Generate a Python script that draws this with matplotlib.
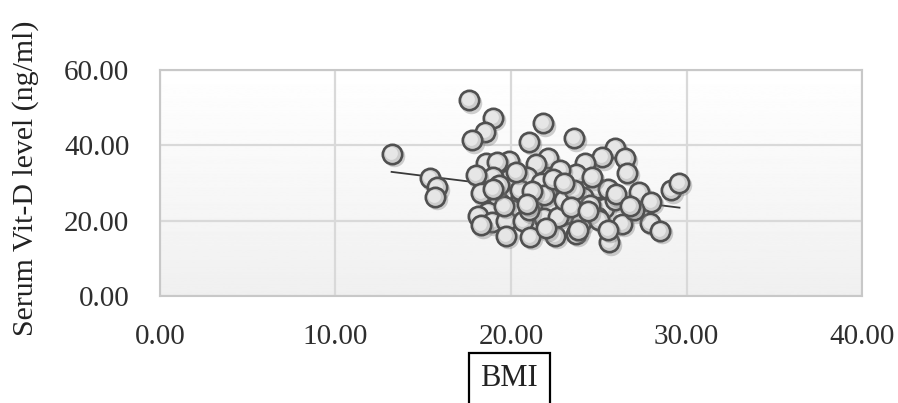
import numpy as np
import matplotlib.pyplot as plt
from matplotlib import transforms

# BMI vs serum vitamin D values
bmi = [13.2, 17.6, 19.0, 18.5, 17.8, 15.4, 15.8, 15.7, 21.8, 23.6,
       21.0, 25.9, 25.2, 26.5, 24.2, 22.1, 21.4, 19.9, 18.6, 19.2,
       26.6, 23.7, 20.9, 19.9, 19.0, 18.0, 21.7, 22.6, 24.9, 25.5,
       27.3, 29.1, 29.6, 18.3, 19.3, 20.6, 21.4, 24.1, 22.3, 25.3,
       28.0, 20.1, 18.7, 18.1, 18.9, 19.7, 20.7, 21.9, 23.1, 24.0,
       24.9, 26.3, 27.9, 28.5, 19.7, 21.1, 22.5, 23.7, 25.6, 18.3,
       22.7, 23.8, 23.1, 19.3, 20.5, 21.9, 23.0, 24.5, 21.0, 25.9,
       23.6, 25.0, 27.0, 20.3, 22.8, 24.6, 21.2, 22.4, 19.6, 23.4,
       26.0, 24.4, 20.9, 22.0, 25.5, 19.0, 23.0, 26.8]
vitd = [37.7, 52.0, 47.3, 43.5, 41.4, 31.3, 28.9, 26.3, 45.9, 41.9,
        40.9, 39.3, 36.9, 36.6, 35.3, 36.6, 35.0, 35.8, 35.3, 35.6,
        32.7, 32.4, 31.6, 31.1, 31.6, 32.1, 30.0, 28.7, 28.7, 28.4,
        27.6, 28.1, 30.0, 27.3, 25.0, 26.3, 25.5, 26.3, 23.6, 23.4,
        25.0, 22.8, 22.3, 21.2, 19.6, 19.9, 19.9, 20.7, 21.8, 19.6,
        21.0, 19.1, 19.4, 17.3, 15.9, 15.7, 15.9, 16.5, 14.3, 18.8,
        21.0, 17.5, 28.9, 29.5, 28.1, 26.8, 25.5, 24.2, 22.8, 25.5,
        28.1, 20.2, 22.8, 33.0, 33.5, 31.5, 27.8, 31.0, 24.0, 23.5,
        27.0, 22.5, 24.5, 18.0, 17.5, 28.5, 30.0, 24.0]

xticks = [0, 10, 20, 30, 40]
yticks = [0, 20, 40, 60]

plt.rcParams['font.family'] = ['Liberation Serif', 'DejaVu Serif']

fig = plt.figure(figsize=(8.98, 4.03), dpi=100)
ax = fig.add_axes([0.178, 0.266, 0.782, 0.560])

# soft vertical gradient background like the Excel plot area
grad = np.linspace(1.0, 0.94, 256).reshape(-1, 1)
ax.imshow(grad, cmap='gray', vmin=0, vmax=1, aspect='auto',
          extent=[0, 40, 0, 60], zorder=0)

ax.set_xlim(0, 40)
ax.set_ylim(0, 60)
ax.set_xticks(xticks)
ax.set_yticks(yticks)
ax.set_xticklabels([f'{v:.2f}' for v in xticks])
ax.set_yticklabels([f'{v:.2f}' for v in yticks])
ax.tick_params(length=0, labelsize=21, colors='#2e2e2e')
ax.tick_params(axis='x', pad=20)
ax.tick_params(axis='y', pad=22)
ax.grid(True, color='#d9d9d9', linewidth=1.6, zorder=1)
for s in ax.spines.values():
    s.set_color('#c8c8c8')
    s.set_linewidth(1.5)

# linear trendline
k, b = np.polyfit(bmi, vitd, 1)
xs = np.array([min(bmi), max(bmi)])
ax.plot(xs, k * xs + b, color='#3a3a3a', linewidth=1.3, zorder=2)

shadow = transforms.offset_copy(ax.transData, fig=fig, x=2, y=-2.5, units='dots')
hilite = transforms.offset_copy(ax.transData, fig=fig, x=-1, y=1, units='dots')
for x, y in zip(bmi, vitd):
    ax.scatter([x], [y], s=240, color='#7a7a7a', alpha=0.35, linewidths=0,
               transform=shadow, zorder=3)
    ax.scatter([x], [y], s=195, facecolor='#cccccc', edgecolor='#505050',
               linewidths=1.9, zorder=3)
    ax.scatter([x], [y], s=85, facecolor='#e6e6e6', linewidths=0,
               transform=hilite, zorder=3)

ax.set_ylabel('Serum Vit-D level (ng/ml)', fontsize=21.5, color='#222222')
ax.yaxis.set_label_coords(-0.172, 0.52)
fig.text(0.567, 0.06, 'BMI', fontsize=22, ha='center', va='center', color='#222222',
         bbox=dict(boxstyle='square,pad=0.38', facecolor='white',
                   edgecolor='black', linewidth=1.6))

fig.savefig('out.png', dpi=100)
